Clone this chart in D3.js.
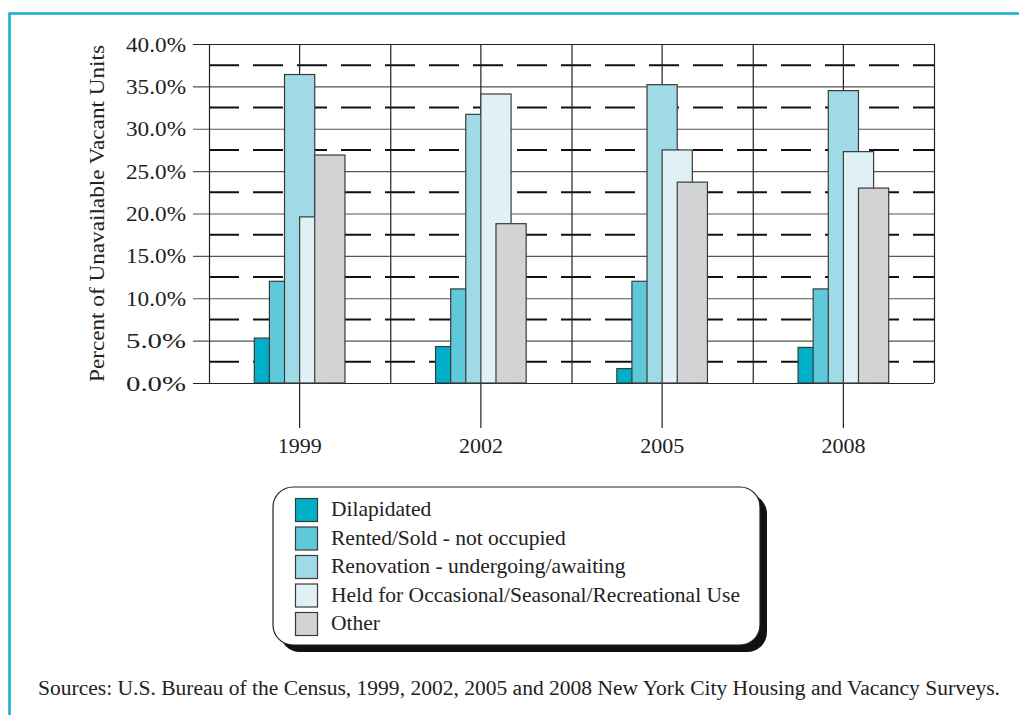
<!DOCTYPE html>
<html>
<head>
<meta charset="utf-8">
<script src="https://cdn.jsdelivr.net/npm/d3@7"></script>
<style>
  html, body { margin: 0; padding: 0; background: #fff; }
  svg { display: block; font-family: "Liberation Serif", "Times New Roman", serif; }
</style>
</head>
<body>
<svg id="chart" width="1019" height="715"></svg>
<script>
// Survey years and vacancy reasons
const years = ["1999", "2002", "2005", "2008"];
const seriesNames = [
  "Dilapidated",
  "Rented/Sold - not occupied",
  "Renovation - undergoing/awaiting",
  "Held for Occasional/Seasonal/Recreational Use",
  "Other"
];
// Percent of unavailable vacant units, one array per reason (by year)
const dilapidated = [5.3, 4.3, 1.7, 4.2];
const rentedSold  = [12.0, 11.1, 12.0, 11.1];
const renovation  = [36.4, 31.7, 35.2, 34.5];
const heldOccasional = [19.6, 34.1, 27.5, 27.3];
const other       = [26.9, 18.8, 23.7, 23.0];
const seriesValues = [dilapidated, rentedSold, renovation, heldOccasional, other];
const seriesColors = ["#00afc8", "#5fc9da", "#a0dae6", "#dff1f5", "#d2d3d5"];

const yTicks = [0, 5, 10, 15, 20, 25, 30, 35, 40];
const yHalfTicks = [2.5, 7.5, 12.5, 17.5, 22.5, 27.5, 32.5, 37.5];

const svg = d3.select("#chart");

// Frame
svg.append("path")
  .attr("d", "M9.5,715 L9.5,13.5 L1019,13.5")
  .attr("fill", "none").attr("stroke", "#14b0c9").attr("stroke-width", 2.5);

const plotLeft = 209, plotRight = 934, plotTop = 44, plotBottom = 383;
const x = d3.scaleBand().domain(years).range([plotLeft, plotRight]).padding(0);
const y = d3.scaleLinear().domain([0, 40]).range([plotBottom, plotTop]);
const bw = x.bandwidth();

// Solid gridlines with outside ticks
svg.append("g").selectAll("line").data(yTicks).join("line")
  .attr("x1", plotLeft - 16).attr("x2", plotRight)
  .attr("y1", d => y(d) + 0.5).attr("y2", d => y(d) + 0.5)
  .attr("stroke", d => (d === 0 || d === 40) ? "#222" : "#555")
  .attr("stroke-width", 1.2);

// Dashed half-step gridlines
svg.append("g").selectAll("line").data(yHalfTicks).join("line")
  .attr("x1", plotLeft).attr("x2", plotRight)
  .attr("y1", d => y(d)).attr("y2", d => y(d))
  .attr("stroke", "#111").attr("stroke-width", 2)
  .attr("stroke-dasharray", "30,14");

// Vertical gridlines: band edges and centers
const edges = years.map(d => x(d)).concat([plotRight]);
svg.append("g").selectAll("line").data(edges).join("line")
  .attr("x1", d => d + 0.5).attr("x2", d => d + 0.5)
  .attr("y1", plotTop).attr("y2", plotBottom)
  .attr("stroke", "#222").attr("stroke-width", 1.2);
svg.append("g").selectAll("line").data(years).join("line")
  .attr("x1", d => x(d) + bw / 2).attr("x2", d => x(d) + bw / 2)
  .attr("y1", plotTop).attr("y2", plotBottom + 45)
  .attr("stroke", "#222").attr("stroke-width", 1.2);

// Overlapping bars: each bar is two steps wide, shifted one step per series
const step = bw / 12;
const barG = svg.append("g");
years.forEach((yr, j) => {
  const c = x(yr) + bw / 2;
  seriesValues.forEach((vals, i) => {
    const v = vals[j];
    barG.append("rect")
      .attr("x", c - bw / 4 + i * step)
      .attr("y", y(v))
      .attr("width", 2 * step)
      .attr("height", y(0) - y(v))
      .attr("fill", seriesColors[i])
      .attr("stroke", "#3a3a3a").attr("stroke-width", 1.2);
  });
});

// Y tick labels
svg.append("g").selectAll("text").data(yTicks).join("text")
  .attr("x", 186).attr("y", d => y(d) + 7.5)
  .attr("text-anchor", "end").attr("font-size", 22).attr("fill", "#222")
  .attr("textLength", 60).attr("lengthAdjust", "spacingAndGlyphs")
  .text(d => d.toFixed(1) + "%");

// X labels
svg.append("g").selectAll("text").data(years).join("text")
  .attr("x", d => x(d) + bw / 2).attr("y", 453)
  .attr("text-anchor", "middle").attr("font-size", 22).attr("fill", "#222")
  .text(d => d);

// Y axis title
svg.append("text")
  .attr("transform", "translate(104,213.5) rotate(-90)")
  .attr("text-anchor", "middle").attr("font-size", 21).attr("fill", "#222")
  .attr("textLength", 337).attr("lengthAdjust", "spacingAndGlyphs")
  .text("Percent of Unavailable Vacant Units");

// Legend with drop shadow
const lg = svg.append("g");
lg.append("rect").attr("x", 280).attr("y", 494).attr("width", 487).attr("height", 158)
  .attr("rx", 20).attr("fill", "#111");
lg.append("rect").attr("x", 273).attr("y", 487).attr("width", 487).attr("height", 158)
  .attr("rx", 20).attr("fill", "#fff").attr("stroke", "#222").attr("stroke-width", 1.2);
seriesNames.forEach((name, i) => {
  const yy = 498 + i * 28.5;
  lg.append("rect").attr("x", 295.5).attr("y", yy + 0.5).attr("width", 22).attr("height", 23)
    .attr("fill", seriesColors[i]).attr("stroke", "#3a3a3a").attr("stroke-width", 1.2);
  lg.append("text").attr("x", 331).attr("y", yy + 18)
    .attr("font-size", 21.5).attr("fill", "#222").text(name);
});

// Source note
svg.append("text")
  .attr("x", 38).attr("y", 695)
  .attr("font-size", 20).attr("fill", "#222")
  .attr("textLength", 962).attr("lengthAdjust", "spacingAndGlyphs")
  .text("Sources:  U.S. Bureau of the Census, 1999, 2002, 2005 and 2008 New York City Housing and Vacancy Surveys.");
</script>
</body>
</html>
